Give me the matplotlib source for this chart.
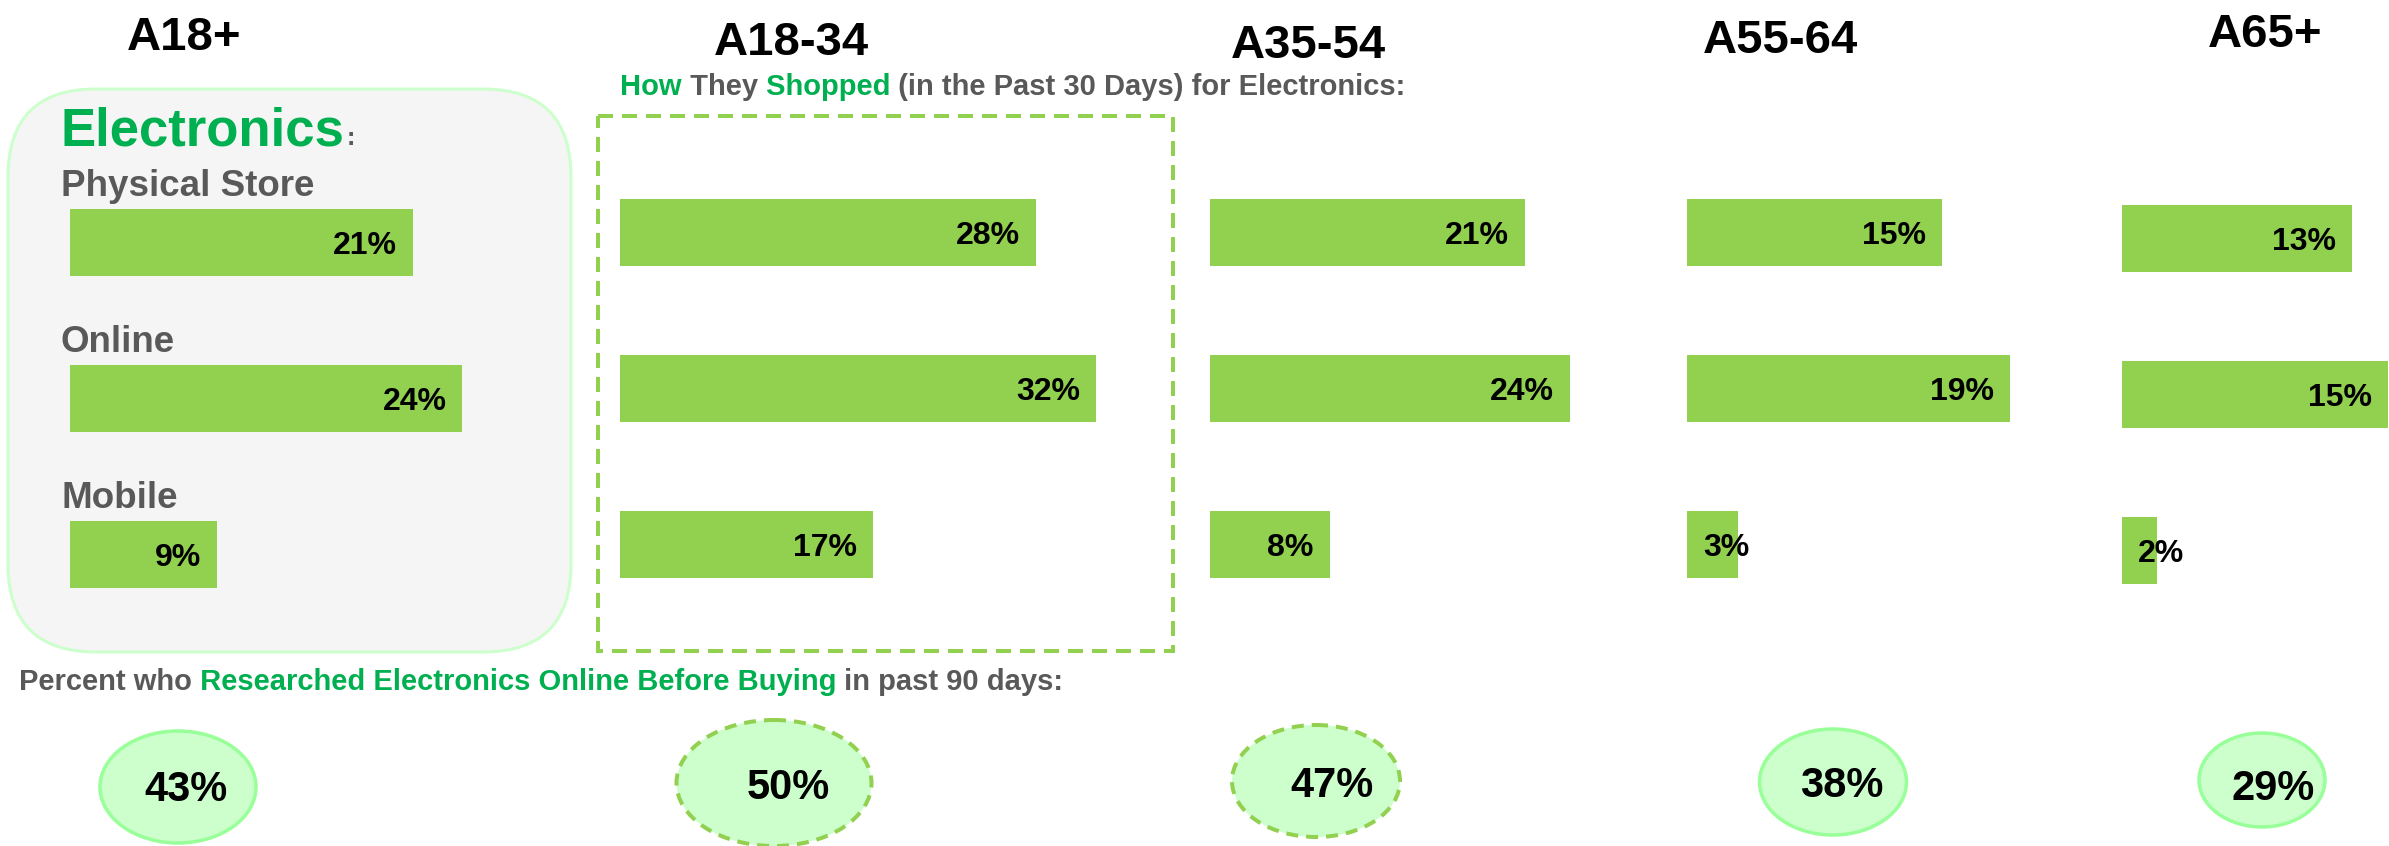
import matplotlib
matplotlib.use("Agg")
import matplotlib.pyplot as plt
from matplotlib.patches import FancyBboxPatch, Rectangle, Ellipse

plt.rcParams['font.family'] = ['Liberation Sans', 'DejaVu Sans']
plt.rcParams['font.weight'] = 'bold'

# ---- data -------------------------------------------------------------
age_groups = ["A18+", "A18-34", "A35-54", "A55-64", "A65+"]
channels = ["Physical Store", "Online", "Mobile"]
physical_store = [21, 28, 21, 15, 13]
online = [24, 32, 24, 19, 15]
mobile = [9, 17, 8, 3, 2]
researched_online = [43, 50, 47, 38, 29]

# ---- colours ------------------------------------------------------------
BAR_GREEN = "#92d050"
TEXT_GREEN = "#00b050"
GRAY = "#595959"
PALE_GREEN = "#ccffcc"
MINT_EDGE = "#99ff99"

# ---- canvas (pixel based layout) ----------------------------------------
W, H, DPI = 2389, 846, 100
PT = 72 / DPI          # points per pixel
fig = plt.figure(figsize=(W / DPI, H / DPI), dpi=DPI)

bg = fig.add_axes([0, 0, 1, 1])
bg.set_xlim(0, W)
bg.set_ylim(H, 0)
bg.axis("off")


def px_axes(x, y, w, h):
    return fig.add_axes([x / W, 1 - (y + h) / H, w / W, h / H])


def rich_text(x, y, pieces, size):
    s, c = pieces[0]
    t = bg.text(x, y, s, color=c, fontsize=size, ha="left", va="baseline")
    for s, c in pieces[1:]:
        t = bg.annotate(s, xy=(1, 0), xycoords=t, xytext=(0, 0),
                        textcoords="offset points", color=c, fontsize=size,
                        ha="left", va="bottom")


# overall (A18+) panel background
bg.add_patch(FancyBboxPatch((8, 89), 563, 563,
                            boxstyle="round,pad=0,rounding_size=88",
                            fc="#f5f5f5", ec=PALE_GREEN, lw=3 * PT))
# highlight around the 18-34 panel
bg.add_patch(Rectangle((598, 116), 575, 535, fill=False, ec=BAR_GREEN,
                       lw=4 * PT, linestyle=(0, (3.75, 2.25))))

# group headers
title_xy = [(184, 50), (791, 55), (1308, 58), (1780, 53), (2265, 47)]
for name, (x, y) in zip(age_groups, title_xy):
    bg.text(x, y, name, fontsize=34, color="black", ha="center", va="baseline")

bg.text(61, 145, "Electronics", fontsize=38, color=TEXT_GREEN, va="baseline")
bg.text(347, 145, ":", fontsize=18, color=GRAY, va="baseline")

rich_text(620, 95, [("How", TEXT_GREEN), (" They", GRAY), (" Shopped", TEXT_GREEN),
                    (" (in the Past 30 Days) for Electronics:", GRAY)], 21)
rich_text(19, 690, [("Percent who", GRAY),
                    (" Researched Electronics Online Before Buying", TEXT_GREEN),
                    (" in past 90 days:", GRAY)], 21)

# ---- bar panels ---------------------------------------------------------
bar_left = [70, 620, 1210, 1687, 2122]
px_per_pct = [16.35, 14.87, 14.98, 16.98, 17.7]
first_row_y = [242, 232.5, 232.5, 232.5, 238]
ROW_STEP, BAR_PX, PANEL_W = 156, 67, 600
PAD = 16

for i in range(len(age_groups)):
    values = [physical_store[i], online[i], mobile[i]]
    ax = px_axes(bar_left[i], first_row_y[i] - ROW_STEP / 2, PANEL_W, 3 * ROW_STEP)
    ax.set_xlim(0, PANEL_W / px_per_pct[i])
    ax.set_ylim(2.5, -0.5)
    ax.axis("off")
    ax.patch.set_alpha(0)
    ax.barh(range(len(values)), values, height=BAR_PX / ROW_STEP,
            color=BAR_GREEN, clip_on=False)
    for j, v in enumerate(values):
        if v * px_per_pct[i] > 90:
            xy, dx, ha = (v, j), -PAD * PT, "right"
        else:
            xy, dx, ha = (0, j), PAD * PT, "left"
        ax.annotate(f"{v}%", xy=xy, xytext=(dx, -11.5 * PT),
                    textcoords="offset points", ha=ha, va="baseline",
                    fontsize=23, color="black", annotation_clip=False)
    if i == 0:
        for j, name in enumerate(channels):
            ax.annotate(name, xy=(0, j), xytext=(-9 * PT, 46 * PT),
                        textcoords="offset points", ha="left", va="baseline",
                        fontsize=26.5, color=GRAY, annotation_clip=False)

# ---- "researched online" bubbles -----------------------------------------
bubble_xy = [(178, 787), (774, 783), (1316, 781), (1833, 782), (2262, 780)]
bubble_wh = [(156, 112), (195, 126), (168, 112), (147, 106), (126, 94)]
bubble_dashed = [False, True, True, False, False]
label_xy = [(186, 801), (788, 799), (1332, 797), (1842, 797), (2273, 800)]

for v, (cx, cy), (bw, bh), dashed, (lx, ly) in zip(
        researched_online, bubble_xy, bubble_wh, bubble_dashed, label_xy):
    if dashed:
        e = Ellipse((cx, cy), bw, bh, fc=PALE_GREEN, ec=BAR_GREEN, lw=4 * PT,
                    linestyle=(0, (3, 2)))
    else:
        e = Ellipse((cx, cy), bw, bh, fc=PALE_GREEN, ec=MINT_EDGE, lw=3.5 * PT)
    bg.add_patch(e)
    bg.text(lx, ly, f"{v}%", fontsize=30, color="black", ha="center", va="baseline")

fig.savefig("out.png", dpi=DPI)
